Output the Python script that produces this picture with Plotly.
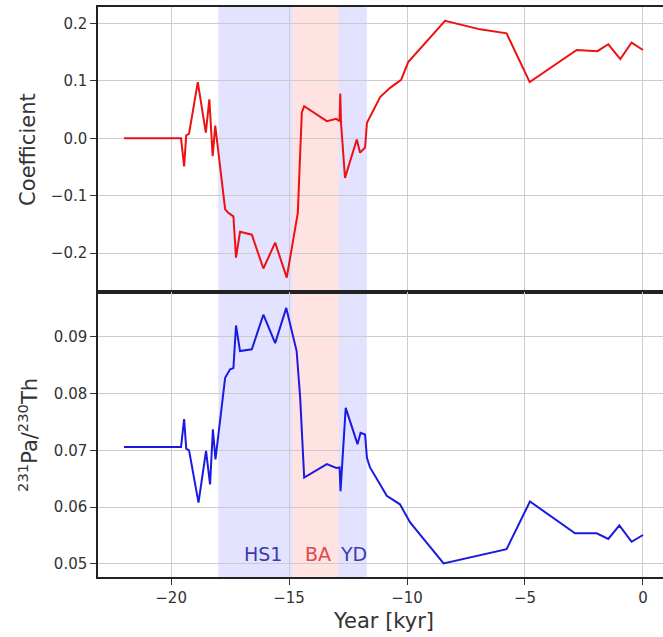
import plotly.graph_objects as go

# ---- data ----
years_coef = [-22.0, -19.58, -19.45, -19.36, -19.24, -18.87, -18.53, -18.38, -18.24, -18.13,
              -17.71, -17.57, -17.36, -17.25, -17.08, -16.58, -16.09, -15.59, -15.1, -14.63,
              -14.46, -14.36, -13.4, -13.0, -12.86, -12.83, -12.80, -12.63, -12.13, -11.99,
              -11.78, -11.7, -11.14, -10.72, -10.25, -9.95, -8.39, -6.9, -5.78, -4.8,
              -2.81, -1.93, -1.47, -0.96, -0.48, 0.0]
coef = [0.0, 0.0, -0.049, 0.005, 0.008, 0.098, 0.010, 0.068, -0.031, 0.022,
        -0.124, -0.130, -0.136, -0.208, -0.163, -0.168, -0.227, -0.182, -0.243, -0.130,
        0.045, 0.056, 0.030, 0.034, 0.030, 0.078, 0.028, -0.069, -0.002, -0.025,
        -0.016, 0.027, 0.072, 0.088, 0.102, 0.133, 0.205, 0.190, 0.183, 0.098,
        0.154, 0.152, 0.164, 0.138, 0.167, 0.154]

years_pa = [-22.0, -19.58, -19.45, -19.36, -19.24, -18.84, -18.52, -18.35, -18.23, -18.12,
            -17.71, -17.5, -17.36, -17.25, -17.08, -16.58, -16.09, -15.59, -15.12, -14.68,
            -14.53, -14.36, -13.4, -13.0, -12.86, -12.82, -12.6, -12.1, -11.97, -11.78,
            -11.7, -11.57, -11.14, -10.86, -10.3, -9.87, -8.45, -5.78, -4.79, -2.88,
            -1.96, -1.47, -1.0, -0.48, 0.0]
pa_th = [0.0706, 0.0706, 0.0755, 0.0703, 0.0700, 0.0608, 0.0699, 0.0640, 0.0737, 0.0684,
         0.0828, 0.0843, 0.0845, 0.0920, 0.0875, 0.0878, 0.0939, 0.0889, 0.0951, 0.0875,
         0.0793, 0.0652, 0.0676, 0.0669, 0.0670, 0.0628, 0.0775, 0.0711, 0.0731, 0.0728,
         0.0687, 0.0670, 0.0640, 0.0620, 0.0605, 0.0573, 0.0501, 0.0526, 0.0610, 0.0554,
         0.0554, 0.0544, 0.0568, 0.0539, 0.0551]

periods = ["HS1", "BA", "YD"]
period_start = [-18.0, -14.85, -12.9]
period_end = [-14.85, -12.9, -11.7]
period_fill = ["rgba(0,0,255,0.11)", "rgba(255,0,0,0.11)", "rgba(0,0,255,0.11)"]
period_text_color = ["#3b3bb0", "#e0484a", "#3b3bb0"]
period_label_x = [-16.1, -13.78, -12.28]

x_ticks = [-20, -15, -10, -5, 0]
coef_ticks = [-0.2, -0.1, 0.0, 0.1, 0.2]
pa_ticks = [0.05, 0.06, 0.07, 0.08, 0.09]

fig = go.Figure()
fig.add_trace(go.Scatter(x=years_coef, y=coef, mode="lines",
                         line=dict(color="#ee1111", width=2), xaxis="x", yaxis="y",
                         showlegend=False))
fig.add_trace(go.Scatter(x=years_pa, y=pa_th, mode="lines",
                         line=dict(color="#1a1ae0", width=2), xaxis="x2", yaxis="y2",
                         showlegend=False))

shapes = []
for s, e, c in zip(period_start, period_end, period_fill):
    for yref in ["y domain", "y2 domain"]:
        xr = "x" if yref.startswith("y ") else "x2"
        shapes.append(dict(type="rect", xref=xr, yref=yref, x0=s, x1=e, y0=0, y1=1,
                           fillcolor=c, line=dict(width=0), layer="below"))

annotations = []
for name, xx, col in zip(periods, period_label_x, period_text_color):
    annotations.append(dict(x=xx, y=0.0517, xref="x2", yref="y2", text=name,
                            showarrow=False, font=dict(size=19, color=col,
                                                       family="DejaVu Sans")))
annotations.append(dict(x=-0.125, y=0.75, xref="paper", yref="paper", text="Coefficient",
                        textangle=-90, showarrow=False, xanchor="center", yanchor="middle",
                        font=dict(size=21, color="#333", family="DejaVu Sans")))
annotations.append(dict(x=-0.125, y=0.25, xref="paper", yref="paper",
                        text="<sup>231</sup>Pa/<sup>230</sup>Th",
                        textangle=-90, showarrow=False, xanchor="center", yanchor="middle",
                        font=dict(size=21, color="#333", family="DejaVu Sans")))
annotations.append(dict(x=-11.0, y=-0.078, xref="x2", yref="paper", text="Year [kyr]",
                        showarrow=False, xanchor="center", yanchor="middle",
                        font=dict(size=21, color="#333", family="DejaVu Sans")))

common = dict(showline=True, linecolor="#222", linewidth=1.5,
              showgrid=True, gridcolor="#cccccc", gridwidth=1, zeroline=False,
              ticks="outside", ticklen=6, tickcolor="#333", tickwidth=1.2,
              tickfont=dict(size=15, color="#333", family="DejaVu Sans"))

xr = [-23.1, 0.85]
fig.update_layout(
    width=663, height=637,
    margin=dict(l=98, r=0, t=7, b=60),
    paper_bgcolor="white", plot_bgcolor="white",
    xaxis=dict(domain=[0, 1], anchor="y", range=xr, tickvals=x_ticks, mirror=True,
               showticklabels=False, **common),
    yaxis=dict(domain=[0.5, 1], anchor="x", range=[-0.268, 0.229], tickvals=coef_ticks,
               tickformat=".1f", mirror=False, **common),
    xaxis2=dict(domain=[0, 1], anchor="y2", range=xr, tickvals=x_ticks, mirror=True,
                tickformat="d", **common),
    yaxis2=dict(domain=[0, 0.5], anchor="x2", range=[0.0477, 0.0979], tickvals=pa_ticks,
                tickformat=".2f", mirror=False, **common),
    shapes=shapes, annotations=annotations,
)

fig.write_html("out.html")
